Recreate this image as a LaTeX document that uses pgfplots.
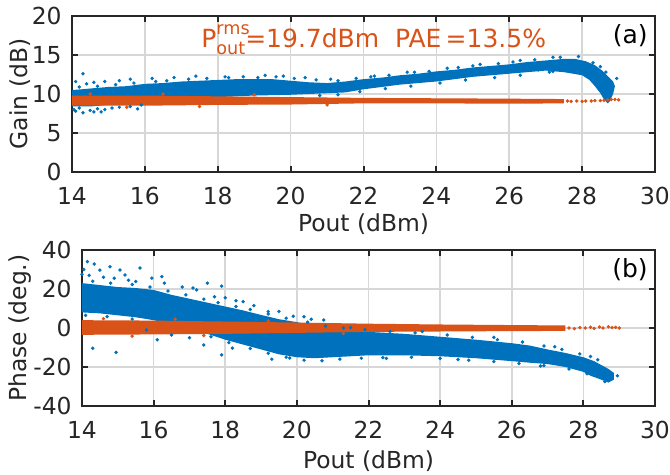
\documentclass[border=0pt]{standalone}
\usepackage{pgfplots}
\pgfplotsset{compat=1.18}
\usepackage{fontspec}
\setmainfont{DejaVu Sans}
\definecolor{mblue}{RGB}{0,114,189}
\definecolor{morange}{RGB}{217,83,25}
\definecolor{gridc}{RGB}{215,215,215}
\definecolor{axc}{RGB}{38,38,38}

\pgfplotsset{
  panel/.style={
    scale only axis, width=286.5pt, height=78pt, anchor=south west,
    xmin=14, xmax=30, xtick={14,16,...,30},
    grid=major,
    major grid style={draw=gridc, line width=0.8pt},
    axis line style={axc, line width=1pt},
    every tick/.append style={draw=axc, line width=1pt},
    major tick length=3pt,
    tick align=inside, xtick pos=both, ytick pos=both,
    /pgf/number format/assume math mode=true,
    tick label style={font=\fontsize{11.7}{13}\selectfont, text=axc, inner sep=0pt},
    label style={font=\fontsize{11.7}{13}\selectfont, text=axc, inner sep=0pt},
    xticklabel style={anchor=center, yshift=-11.75pt},
    yticklabel style={anchor=east, xshift=-5pt},
    xlabel={Pout (dBm)},
  },
  dots/.style={only marks, mark=*, mark size=0.65pt, #1, mark options={draw=none, fill=#1}},
}

\begin{document}
\begin{tikzpicture}
\useasboundingbox (0,0) rectangle (335pt,237.5pt);

% ---- (a) gain
\begin{axis}[panel, at={(36pt,151.5pt)}, width=291.5pt,
  ymin=0, ymax=20, ytick={0,5,...,20},
  ylabel={Gain (dB)},
  ylabel style={at={(axis description cs:-0.089,0.5)}, anchor=center},
  xlabel style={at={(axis description cs:0.5,-0.333)}, anchor=center},
]
\addplot[fill=mblue, draw=none] coordinates {
 (14,10.5) (14.5,10.7) (15,10.9) (15.5,11.0) (16,11.3) (16.5,11.4) (17,11.6)
 (17.5,11.7) (18,11.8) (18.5,11.9) (19,11.9) (19.5,11.9) (20,11.7) (20.5,11.5)
 (21,11.4) (21.5,11.6) (22,11.9) (22.5,12.1) (23,12.4) (23.5,12.6) (24,12.9)
 (24.5,13.1) (25,13.4) (25.5,13.6) (26,13.8) (26.5,14.1) (27,14.3) (27.5,14.5)
 (27.8,14.5) (28.1,14.2) (28.35,13.7) (28.55,13.0) (28.7,12.3) (28.85,11.6)
 (28.9,11.0) (28.85,10.0) (28.75,9.0) (28.7,8.8)
 (28.6,9.3) (28.5,10.1) (28.35,11.0) (28.2,11.8) (28,12.4) (27.5,12.8) (27,13.0)
 (26.5,12.8) (26,12.6) (25.5,12.4) (25,12.2) (24.5,11.9) (24,11.6) (23.5,11.4)
 (23,11.2) (22.5,10.9) (22,10.6) (21.5,10.2) (21,10.1) (20.5,10.0) (20,9.9)
 (19,9.8) (18,9.6) (17,9.5) (16,9.2) (15.5,8.8) (15,8.6) (14.5,8.4) (14,8.4)
};
\addplot[dots=mblue] coordinates {
 (14.3,12.6) (14.1,11.6) (14.4,11.3) (14.6,11.5) (14.9,11.6) (15.3,11.7)
 (15.6,11.9) (16.2,12.0) (16.8,12.1) (17.4,12.3) (18.2,12.2) (19.3,12.4)
 (19.8,12.3) (20.4,12.1) (21.1,11.9) (22.3,12.3) (23.2,12.8) (24.3,13.3)
 (25.2,13.8) (26.3,14.3) (27.2,14.7) (27.9,14.8) (28.5,13.5) (28.95,12.0)
 (14.1,7.8) (14.3,7.6) (14.5,7.9) (14.7,8.1) (14.9,8.0) (15.3,8.3) (15.6,8.4)
 (15.9,8.6) (14.2,8.2) (14.8,7.7) (15.1,8.2) (15.8,8.1) (14.05,8.0) (14.6,7.7)
 (26.8,13.1) (27.2,12.9) (27.5,13.3) (27.8,12.9) (28.0,12.7) (28.2,12.2)
 (14.2,10.9) (14.7,11.0) (15.2,11.2) (15.7,11.4) (16.3,11.6) (16.6,11.7)
 (17.2,11.9) (17.7,12.0) (18.3,12.1) (18.7,12.2) (19.1,12.1) (19.6,12.2)
 (20.1,12.0) (20.7,11.8) (21.3,11.7) (21.8,12.0) (22.2,12.2) (22.7,12.4)
 (23.4,12.8) (23.8,12.9) (24.6,13.4) (25.0,13.6) (25.7,13.9) (26.1,14.1)
 (26.7,14.4) (27.4,14.7) (28.3,14.0) (28.65,12.8)
 (20.8,9.8) (21.3,9.9) (21.9,10.3) (22.6,10.7) (23.3,11.0) (24.1,11.4)
 (24.8,11.8) (25.6,12.1) (26.3,12.4) (27.1,12.8)
};
\addplot[fill=morange, draw=none] coordinates {
 (14,9.8) (16,9.8) (18,9.7) (20,9.6) (22,9.5) (24,9.45) (26,9.4) (27.5,9.35)
 (27.5,8.8) (26,8.75) (24,8.8) (22,8.8) (20,8.65) (18,8.6) (16,8.5) (14,8.5)
};
\addplot[dots=morange] coordinates {
 (27.6,9.1) (27.7,9.05) (27.85,9.1) (28.0,9.05) (28.1,9.1) (28.25,9.1)
 (28.35,9.15) (28.5,9.15) (28.6,9.2) (28.7,9.25) (28.8,9.3) (28.9,9.3)
 (29.0,9.25) (14.5,10.0) (15.5,8.3) (16.5,10.0) (17.5,8.4) (19.0,9.9) (21,8.6)
};
\node[morange, anchor=base, font=\fontsize{12.5}{14}\selectfont] at (axis cs:22.28,16.0)
  {P\makebox[0pt][l]{\raisebox{0.95ex}{\fontsize{8.8}{10}\selectfont rms}}\raisebox{-0.55ex}{\fontsize{8.8}{10}\selectfont out}=19.7dBm\ \ PAE\,=13.5\%};
\node[anchor=north east, font=\fontsize{12.5}{14}\selectfont, inner sep=0pt] at (rel axis cs:0.988,0.95) {(a)};
\end{axis}

% ---- (b) phase
\begin{axis}[panel, at={(41pt,34.5pt)},
  ymin=-40, ymax=40, ytick={-40,-20,...,40},
  ylabel={Phase (deg.)},
  ylabel style={at={(axis description cs:-0.108,0.5)}, anchor=center},
  xlabel style={at={(axis description cs:0.5,-0.352)}, anchor=center},
]
\addplot[fill=mblue, draw=none] coordinates {
 (14,23) (14.5,22) (15,21) (15.5,20.5) (16,19.5) (16.5,17) (17,15) (17.5,13)
 (18,11) (18.5,9) (19,6.7) (19.5,4.5) (20,3) (20.5,1) (21,-0.5) (21.5,-1.5)
 (22,-2) (23,-3) (24,-4.5) (25,-6) (26,-7.8) (26.5,-9) (27,-11) (27.5,-12.8)
 (28,-15) (28.3,-17) (28.5,-19) (28.7,-21) (28.85,-23)
 (28.85,-26.5) (28.7,-28) (28.5,-26.5) (28.2,-24.5) (28,-22.5) (27.5,-20)
 (27,-18.5) (26.5,-17.8) (26,-17) (25,-15.5) (24,-14.5) (23,-14) (22,-14)
 (21.5,-14.5) (21,-15) (20.5,-15.5) (20,-15) (19.5,-13.5) (19,-11) (18.5,-8.5)
 (18,-6) (17.5,-3) (17,0) (16.5,2) (16,4) (15.5,5.5) (15,6.5) (14.5,7.5) (14,8)
};
\addplot[dots=mblue] coordinates {
 (14.15,34) (14.34,32.8) (14.5,29.7) (14.78,31.4) (15.06,29.7) (15.2,27.2)
 (15.62,30.8) (15.95,25.6) (16.23,26.3) (16.3,23) (17.1,20.5) (17.5,23)
 (17.9,21.5) (17.7,16) (18.5,13.5) (19.2,8.4) (20.2,5.8) (20.75,4.1)
 (14.3,-10.4) (14.95,-12.5) (16.1,-6) (16.5,-3.6) (17.4,-8.7) (17.9,-13.8)
 (18.2,-10.3) (19.3,-16) (19.8,-15.4) (14.0,27.6) (14.05,30) (14.6,26)
 (14.9,25.5) (15.3,24.5) (14.2,27) (15.5,23.8) (16.8,21) (17.2,19.5)
 (18.0,15.5) (18.3,14) (18.8,11.5) (19.5,8.5) (19.9,6) (20.4,4.5) (15.8,-1)
 (17.0,-5) (14.1,6.5) (14.7,5.8) (15.4,4.6) (21.5,0.2) (23.5,-1.8) (25.5,-4.8)
 (27.2,-9.6) (28.2,-14.6) (28.95,-24.5) (22.5,-15.6) (24.5,-16.2) (26.8,-19.5)
 (14.3,24) (14.8,23) (15.4,22.3) (15.9,21) (16.4,19) (16.9,17) (17.4,14.8)
 (17.8,13) (18.3,11) (18.7,9.5) (19.2,7.2) (19.7,5) (20.3,3) (20.8,1) (21.3,0)
 (21.9,-0.8) (22.6,-1.8) (23.3,-2.5) (24.2,-3.6) (24.9,-4.8) (25.6,-6)
 (26.3,-7.2) (26.9,-9.2) (27.4,-11) (27.9,-13.3) (28.4,-16.3)
 (17.6,-4.5) (18.1,-7.5) (18.7,-10.5) (19.2,-13) (19.7,-15) (20.2,-16.5)
 (20.7,-16.8) (21.2,-16) (21.8,-15.5) (22.4,-15.2) (23.2,-15) (24.0,-15.6)
 (24.8,-16.5) (25.5,-17.2) (26.2,-18.2) (26.9,-19.3) (27.6,-21) (28.1,-23.5)
 (28.6,-27.5)
};
\addplot[fill=morange, draw=none] coordinates {
 (14,4) (16,3.8) (18,3.3) (20,2.8) (22,2.2) (24,1.8) (26,1.5) (27.5,1.3)
 (27.5,-1.5) (26,-1.6) (24,-1.8) (22,-2) (20,-2.5) (18,-3) (16,-3.3) (14,-3.5)
};
\addplot[dots=morange] coordinates {
 (27.6,0) (27.75,-0.3) (27.9,0.2) (28.05,0) (28.2,0.4) (28.3,-0.2) (28.45,0.5)
 (28.55,0) (28.7,0.6) (28.8,0.2) (28.9,0.3) (29.0,0)
 (14.6,4.8) (15.4,-4.2) (16.6,4.5) (17.4,-3.8) (19.2,3.6) (21.3,-2.8)
};
\node[anchor=north east, font=\fontsize{12.5}{14}\selectfont, inner sep=0pt] at (rel axis cs:0.988,0.95) {(b)};
\end{axis}
\end{tikzpicture}
\end{document}
